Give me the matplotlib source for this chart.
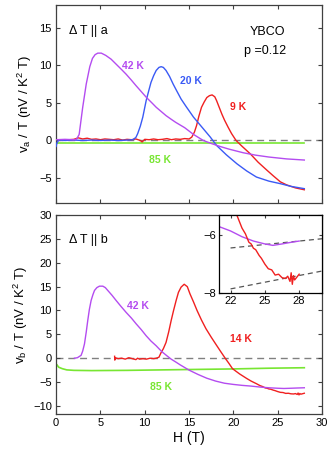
import matplotlib
matplotlib.use("Agg")
import matplotlib.pyplot as plt

plt.rcParams['font.family'] = ['Liberation Sans', 'DejaVu Sans']
plt.rcParams['mathtext.fontset'] = 'custom'
plt.rcParams['mathtext.rm'] = 'Liberation Sans'
plt.rcParams['mathtext.it'] = 'Liberation Sans:italic'

purple = '#b44cf0'
blue = '#3a5af5'
red = '#f02020'
green = '#78e632'

# ---- panel a (dT || a) ----
H42a = [0, 1, 2, 2.3, 2.6, 3.0, 3.4, 3.8, 4.1, 4.4, 4.7, 5.1, 5.6, 6.2, 6.8, 7.4, 7.9, 8.5, 9.0,
        9.6, 10.2, 10.8, 11.3, 11.9, 12.4, 13.0, 13.5, 14.5, 15.5, 16.6, 17.5, 18.5, 19.5, 21.1,
        22.5, 24, 26, 28]
v42a = [0.1, 0.15, 0.1, 0.15, 0.8, 4.4, 7.5, 9.8, 10.9, 11.4, 11.6, 11.6, 11.3, 10.8, 10.1, 9.4,
        8.8, 8.0, 7.3, 6.5, 5.7, 5.0, 4.4, 3.8, 3.3, 2.8, 2.4, 1.7, 0.8, 0.0, -0.4, -0.8, -1.15,
        -1.63, -1.95, -2.2, -2.45, -2.6]

H20a = [0.0, 0.1, 0.3, 1, 2, 3, 4, 5, 6, 7, 8, 8.65, 9.0, 9.2, 9.5, 9.78, 10.16, 10.45, 10.7,
        11.0, 11.29, 11.6, 11.85, 12.1, 12.4, 12.8, 13.2, 13.6, 14.1, 14.67, 15.5, 16.5, 17.4,
        18.1, 19.2, 20.4, 21.5, 22.6, 24.0, 25.3, 26.5, 28.0]
v20a = [-0.8, -0.3, 0.05, 0.0, 0.05, 0.0, 0.05, 0.0, 0.05, 0.0, 0.05, 0.1, 0.4, 0.9, 1.9, 3.1,
        5.3, 6.6, 7.7, 8.6, 9.3, 9.7, 9.8, 9.7, 9.3, 8.5, 7.5, 6.6, 5.5, 4.5, 3.1, 1.7, 0.44,
        -0.66, -1.9, -3.1, -4.05, -4.86, -5.4, -5.74, -6.1, -6.4]

H9a = [1.5, 2.0, 2.5, 3.0, 3.5, 4.0, 4.5, 5.0, 5.5, 6.0, 6.5, 7.0, 7.5, 8.0, 8.5, 9.0, 9.5, 9.7,
       10.0, 10.5, 11.0, 11.5, 12.0, 12.5, 13.0, 13.5, 14.0, 14.5, 15.0, 15.3, 15.6, 15.85, 16.1,
       16.4, 16.7, 17.0, 17.3, 17.6, 17.9, 18.1, 18.4, 18.7, 19.0, 19.4, 19.8, 20.3, 21.0, 21.9,
       22.8, 23.8, 24.5, 25.3, 26.0, 27.0, 28.0]
v9a = [0.1, 0.15, 0.35, 0.2, 0.3, 0.15, 0.2, 0.1, 0.2, 0.15, 0.1, 0.2, 0.05, 0.15, 0.1, 0.2, 0.0,
       -0.2, 0.15, 0.1, 0.2, 0.1, 0.15, 0.25, 0.1, 0.2, 0.15, 0.25, 0.2, 0.44, 1.1, 2.0, 3.2,
       4.4, 5.1, 5.7, 5.95, 6.05, 5.8, 5.3, 4.4, 3.5, 2.7, 1.77, 0.9, 0.0, -0.8, -1.77, -2.9,
       -3.97, -4.7, -5.5, -5.9, -6.3, -6.55]

H85a = [0, 28]
v85a = [-0.35, -0.35]

# ---- panel b (dT || b) ----
H42b = [2.07, 2.4, 2.82, 3.0, 3.2, 3.4, 3.57, 3.75, 3.95, 4.15, 4.33, 4.6, 4.89, 5.27, 5.55,
        5.83, 6.3, 6.77, 7.3, 7.9, 8.5, 9.03, 9.6, 10.16, 10.7, 11.29, 11.7, 12.04, 12.5, 12.98,
        13.5, 14.0, 15.0, 16.0, 17.0, 18.0, 19.0, 20.0, 21.0, 22.0, 23.0, 24.0, 25.0, 25.7,
        26.5, 27.2, 28.0]
v42b = [0.0, 0.1, 0.6, 1.5, 3.0, 5.5, 7.9, 10.2, 12.1, 13.3, 14.2, 14.8, 15.1, 15.1, 14.8, 14.2,
        13.2, 12.1, 10.9, 9.6, 8.4, 7.2, 6.0, 4.7, 3.6, 2.6, 1.8, 1.2, 0.5, -0.2, -0.8, -1.4,
        -2.5, -3.4, -4.2, -4.8, -5.25, -5.5, -5.7, -5.85, -6.05, -6.2, -6.3, -6.35, -6.3,
        -6.25, -6.2]

H14b = [6.6, 6.62, 6.65, 7.0, 7.4, 7.8, 8.2, 8.6, 9.0, 9.2, 9.4, 9.8, 10.2, 10.6, 11.0, 11.3,
        11.6, 11.85, 12.1, 12.4, 12.7, 12.98, 13.25, 13.54, 13.8, 14.1, 14.45, 14.8, 15.1, 15.5,
        15.9, 16.4, 16.9, 17.5, 18.1, 18.6, 19.1, 19.5, 19.9, 20.7, 21.5, 22.0, 22.6, 23.0,
        23.3, 23.6, 23.8, 24.0, 24.2, 24.5, 24.7, 25.0, 25.3, 25.6, 25.9, 26.2, 26.5, 26.8,
        27.0, 27.2, 27.3, 27.4, 27.5, 27.6, 27.8, 28.0]
v14b = [0.4, -0.4, 0.1, -0.1, 0.0, -0.2, 0.1, -0.1, -0.3, 0.0, -0.2, -0.1, -0.2, 0.0, -0.1,
        0.0, 0.2, 1.2, 2.0, 3.3, 5.5, 7.9, 10.0, 12.1, 13.8, 14.9, 15.5, 15.0, 13.5, 11.8, 10.0,
        8.0, 6.2, 4.4, 2.7, 1.3, -0.07, -1.1, -2.2, -3.3, -4.25, -4.8, -5.35, -5.75, -5.95,
        -6.24, -6.3, -6.45, -6.5, -6.7, -6.8, -7.0, -7.16, -7.2, -7.38, -7.35, -7.47, -7.5,
        -7.42, -7.6, -7.3, -7.7, -7.4, -7.55, -7.45, -7.35]

H85b = [0, 0.05, 0.3, 0.7, 1.2, 2, 4, 8, 12, 16, 20, 24, 28]
v85b = [-1.5, -1.3, -1.9, -2.2, -2.45, -2.55, -2.6, -2.55, -2.45, -2.35, -2.25, -2.1, -2.0]

# background lines in the inset
Hbg = [22, 30]
bg_upper = [-6.44, -6.12]
bg_lower = [-7.86, -7.24]

fig = plt.figure(figsize=(3.32, 4.5), dpi=100)
ax1 = fig.add_axes([0.169, 0.549, 0.801, 0.44])
ax2 = fig.add_axes([0.169, 0.080, 0.801, 0.442])

spine_col = '#404040'
for ax in (ax1, ax2):
    ax.axhline(0, color='#808080', lw=1.0, ls=(0, (5, 3.5)), zorder=1)
    ax.set_xlim(0, 30)
    ax.set_xticks([0, 5, 10, 15, 20, 25, 30])
    ax.tick_params(direction='in', length=3, width=0.8, top=True, right=True,
                   labelsize=8, color=spine_col, pad=3)
    for s in ax.spines.values():
        s.set_color(spine_col)
        s.set_linewidth(0.9)

lw = 1.0
ax1.plot(H85a, v85a, color=green, lw=1.2, zorder=2)
ax1.plot(H9a, v9a, color=red, lw=lw, zorder=3)
ax1.plot(H20a, v20a, color=blue, lw=lw, zorder=4)
ax1.plot(H42a, v42a, color=purple, lw=lw, zorder=5)
ax1.set_ylim(-8.3, 18)
ax1.set_yticks([-5, 0, 5, 10, 15])
ax1.set_xticklabels([])
ax1.set_ylabel(r'v$_{\rm a}$ / T (nV / K$^{\rm 2}$ T)', fontsize=9.5, labelpad=4)

ax1.text(1.5, 14.6, 'Δ T || a', fontsize=9, va='center', ha='left')
ax1.text(23.8, 14.4, 'YBCO', fontsize=9, va='center', ha='center')
ax1.text(23.6, 11.9, 'p =0.12', fontsize=9, va='center', ha='center')
ax1.text(8.7, 9.9, '42 K', color=purple, fontsize=7.5, fontweight='bold', ha='center', va='center')
ax1.text(15.2, 7.95, '20 K', color=blue, fontsize=7.5, fontweight='bold', ha='center', va='center')
ax1.text(20.5, 4.5, '9 K', color=red, fontsize=7.5, fontweight='bold', ha='center', va='center')
ax1.text(11.7, -2.56, '85 K', color=green, fontsize=7.5, fontweight='bold', ha='center', va='center')

ax2.plot(H85b, v85b, color=green, lw=1.2, zorder=2)
ax2.plot(H14b, v14b, color=red, lw=lw, zorder=3)
ax2.plot(H42b, v42b, color=purple, lw=lw, zorder=4)
ax2.set_ylim(-11.7, 30)
ax2.set_yticks([-10, -5, 0, 5, 10, 15, 20, 25, 30])
ax2.set_xlabel('H (T)', fontsize=10, labelpad=2)
ax2.set_ylabel(r'v$_{\rm b}$ / T (nV / K$^{\rm 2}$ T)', fontsize=9.5, labelpad=2)

ax2.text(1.5, 24.7, 'Δ T || b', fontsize=9, va='center', ha='left')
ax2.text(9.2, 10.9, '42 K', color=purple, fontsize=7.5, fontweight='bold', ha='center', va='center')
ax2.text(20.9, 4.0, '14 K', color=red, fontsize=7.5, fontweight='bold', ha='center', va='center')
ax2.text(11.8, -6.1, '85 K', color=green, fontsize=7.5, fontweight='bold', ha='center', va='center')

# inset
axi = fig.add_axes([0.66, 0.349, 0.310, 0.173])
axi.plot(Hbg, bg_upper, color='#555555', lw=0.9, ls=(0, (4, 3)))
axi.plot(Hbg, bg_lower, color='#555555', lw=0.9, ls=(0, (4, 3)))
axi.plot(H42b, v42b, color=purple, lw=lw)
axi.plot(H14b, v14b, color=red, lw=lw)
axi.set_xlim(21, 30)
axi.set_ylim(-8, -5.3)
axi.set_xticks([22, 25, 28])
axi.set_yticks([-8, -6])
axi.tick_params(direction='in', length=2.5, labelsize=8, pad=2, top=True, right=True,
                color=spine_col)
for s in axi.spines.values():
    s.set_color('black')
    s.set_linewidth(0.9)

fig.savefig('out.png', dpi=100)
